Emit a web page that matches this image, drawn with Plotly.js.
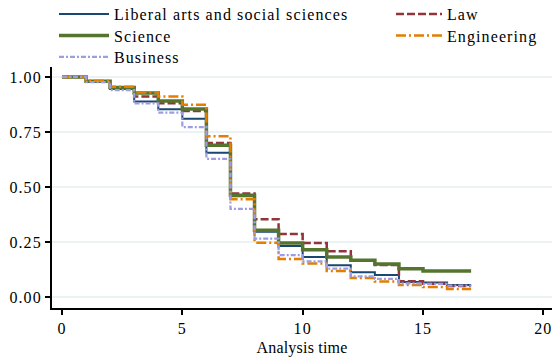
<!DOCTYPE html>
<html>
<head>
<meta charset="utf-8">
<script src="https://cdn.plot.ly/plotly-3.0.1.min.js"></script>
<style>
html,body{margin:0;padding:0;background:#fff}
#chart{width:552px;height:362px}
svg text{letter-spacing:1.1px}
svg text.xtitle{letter-spacing:0.2px}
</style>
</head>
<body>
<div id="chart"></div>
<script>
// Analysis time (steps)
const times = [0,1,2,3,4,5,6,7,8,9,10,11,12,13,14,15,16,17];
// Survival estimates
const liberal     = [1.00,0.978,0.945,0.888,0.853,0.810,0.655,0.458,0.296,0.232,0.182,0.144,0.112,0.100,0.068,0.066,0.055,0.055];
const law         = [1.00,0.978,0.950,0.911,0.880,0.845,0.700,0.470,0.353,0.286,0.245,0.208,0.167,0.145,0.072,0.060,0.050,0.050];
const science     = [1.00,0.980,0.952,0.927,0.890,0.854,0.690,0.462,0.303,0.245,0.215,0.182,0.167,0.150,0.128,0.118,0.118,0.118];
const engineering = [1.00,0.982,0.955,0.929,0.911,0.873,0.730,0.444,0.247,0.173,0.152,0.118,0.086,0.070,0.054,0.045,0.036,0.036];
const business    = [1.00,0.976,0.940,0.880,0.838,0.772,0.628,0.400,0.265,0.190,0.162,0.129,0.094,0.082,0.062,0.060,0.052,0.052];

const names = ['Liberal arts and social sciences','Law','Science','Engineering','Business'];
const xTicks = [0,5,10,15,20];
const yTicks = [0,0.25,0.5,0.75,1];
const yTickText = ['0.00','0.25','0.50','0.75','1.00'];
const xTitle = 'Analysis time';

const FONT = "'Liberation Serif', 'Times New Roman', serif";
const FS = 16;

function tr(y, name, color, width, dash, legend) {
  return {
    x: times, y: y, name: name, type: 'scatter', mode: 'lines',
    line: {shape: 'hv', color: color, width: width, dash: dash},
    legend: legend, hoverinfo: 'skip'
  };
}

const data = [
  tr(liberal, names[0], '#1a476f', 2, 'solid', 'legend'),
  tr(law, names[1], '#90353b', 2.5, '8px,3px', 'legend2'),
  tr(science, names[2], '#55752f', 3.5, 'solid', 'legend3'),
  tr(engineering, names[3], '#e37e00', 2.5, '10px,3px,2px,3px', 'legend4'),
  tr(business, names[4], '#9d9de4', 2.2, '5px,2px,2px,2px', 'legend5')
];

function leg(xpx, ycenter, iw) {
  return {
    orientation: 'v', xref: 'container', yref: 'container',
    xanchor: 'left', yanchor: 'middle',
    x: xpx / 552, y: 1 - ycenter / 362,
    font: {family: FONT, size: FS, color: '#000'},
    bgcolor: 'rgba(0,0,0,0)', borderwidth: 0,
    itemwidth: iw, tracegroupgap: 0
  };
}

const layout = {
  width: 552, height: 362,
  margin: {l: 52, r: 0, t: 67, b: 54, autoexpand: false},
  paper_bgcolor: '#fff', plot_bgcolor: '#fff',
  font: {family: FONT, size: FS, color: '#000'},
  showlegend: true,
  legend:  leg(54, 14, 50),
  legend2: leg(391, 14, 46),
  legend3: leg(54, 35.5, 50),
  legend4: leg(391, 35.5, 46),
  legend5: leg(54, 57, 50),
  xaxis: {
    range: [-0.415, 20.36], tickvals: xTicks, ticktext: xTicks.map(String),
    showgrid: false, zeroline: false, automargin: false,
    ticklabeloverflow: 'allow',
    showline: true, linecolor: '#000', linewidth: 2,
    ticks: 'outside', ticklen: 5, tickwidth: 2, tickcolor: '#000',
    tickfont: {family: FONT, size: FS, color: '#000'},
    title: {text: xTitle, font: {family: FONT, size: FS, color: '#000'}, standoff: 6}
  },
  yaxis: {
    range: [-0.05, 1.045], tickvals: yTicks, ticktext: yTickText,
    showgrid: true, gridcolor: '#eaf2f3', gridwidth: 2,
    zeroline: false, automargin: false,
    showline: true, linecolor: '#000', linewidth: 2,
    ticks: 'outside', ticklen: 5, tickwidth: 2, tickcolor: '#000',
    tickfont: {family: FONT, size: FS, color: '#000'}
  }
};

Plotly.newPlot('chart', data, layout, {displayModeBar: false, staticPlot: true});
</script>
</body>
</html>
